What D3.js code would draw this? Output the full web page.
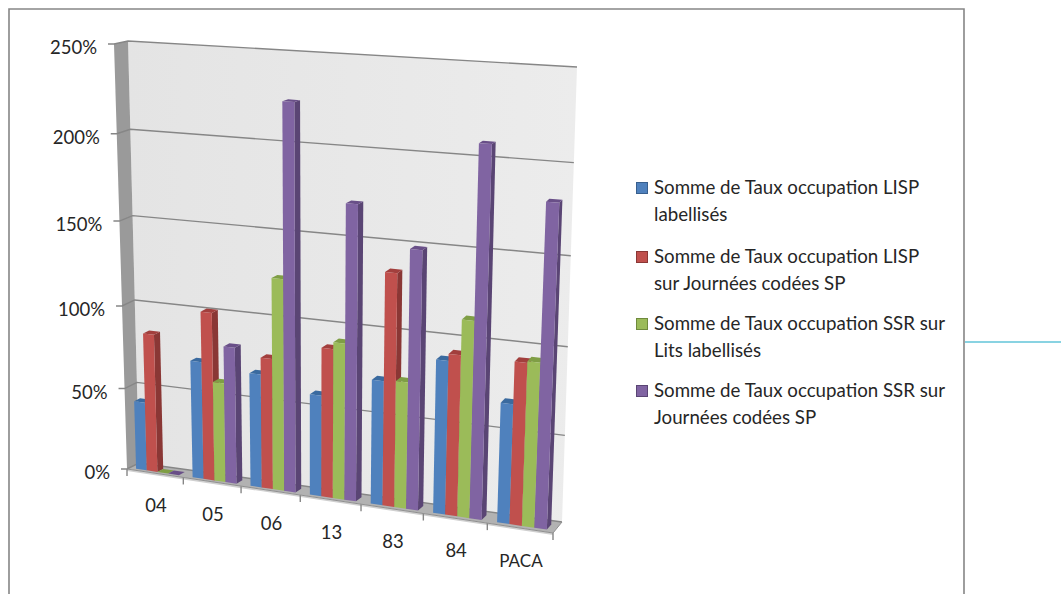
<!DOCTYPE html>
<html>
<head>
<meta charset="utf-8">
<script src="https://cdn.jsdelivr.net/npm/d3@7"></script>
<style>
    body { margin: 0; background: #fff; }
    svg { display: block; font-family: Lato, "Open Sans", sans-serif; }
</style>
</head>
<body>
<div id="chart"></div>
<script>
//Width and height
var w = 1061;
var h = 594;

//Data
const categories = ["04", "05", "06", "13", "83", "84", "PACA"];
const seriesKeys = ["lispLabel", "lispJours", "ssrLits", "ssrJours"];
const lispLabel = [42, 71, 68, 60, 73, 89, 69];
const lispJours = [84, 101, 78, 88, 135, 93, 93];
const ssrLits = [0, 60, 125, 92, 74, 113, 94];
const ssrJours = [0, 82, 224, 171, 149, 209, 181];
const seriesValues = [lispLabel, lispJours, ssrLits, ssrJours];
const valueTicks = [0, 50, 100, 150, 200, 250];
const legendLines = [
    ["Somme de Taux occupation LISP", "labellisés"],
    ["Somme de Taux occupation LISP", "sur Journées codées SP"],
    ["Somme de Taux occupation SSR sur", "Lits labellisés"],
    ["Somme de Taux occupation SSR sur", "Journées codées SP"]
];

//front, side, top of each series
var colors = [
    { front: "#4f81bd", side: "#385f8e", top: "#3a6a9f" },
    { front: "#c0504d", side: "#8a3735", top: "#a23f3d" },
    { front: "#9bbb59", side: "#6f8a3c", top: "#7f9e45" },
    { front: "#8064a2", side: "#5a4574", top: "#694f88" }
];

//Screen corners of the chart box: bottom-left, bottom-right, top-right, top-left
var frontQuad = [[127, 469], [553, 533], [572, 70], [114, 44]];
var backQuad = [[139, 463], [562, 522], [577, 67], [128, 41]];

//Unit square to quad perspective map
function makeHomography(q) {
    var dx1 = q[1][0] - q[2][0], dx2 = q[3][0] - q[2][0], sx = q[0][0] - q[1][0] + q[2][0] - q[3][0];
    var dy1 = q[1][1] - q[2][1], dy2 = q[3][1] - q[2][1], sy = q[0][1] - q[1][1] + q[2][1] - q[3][1];
    var den = dx1 * dy2 - dx2 * dy1;
    var g = (sx * dy2 - dx2 * sy) / den;
    var k = (dx1 * sy - sx * dy1) / den;
    var a = q[1][0] - q[0][0] + g * q[1][0], b = q[3][0] - q[0][0] + k * q[3][0], c = q[0][0];
    var d = q[1][1] - q[0][1] + g * q[1][1], e = q[3][1] - q[0][1] + k * q[3][1], f = q[0][1];
    return function (u, v) {
        var t = g * u + k * v + 1;
        return [(a * u + b * v + c) / t, (d * u + e * v + f) / t];
    };
}

var frontMap = makeHomography(frontQuad);
var backMap = makeHomography(backQuad);

//u along categories, v up the values, depth 0 = front, 1 = back
function project(u, v, depth) {
    var p = frontMap(u, v), q = backMap(u, v);
    return [p[0] + (q[0] - p[0]) * depth, p[1] + (q[1] - p[1]) * depth];
}

var xScale = d3.scaleBand().domain(categories).range([0, 1]).paddingInner(0.24).paddingOuter(0.12);
var seriesScale = d3.scaleBand().domain(seriesKeys).range([0, xScale.bandwidth()]);
var yScale = d3.scaleLinear().domain([0, 250]).range([0, 1]);
var tickScale = d3.scalePoint().domain(d3.range(categories.length + 1)).range([0, 1]);

var barFrontDepth = 0.2;
var barBackDepth = 0.68;

var line = d3.line();

var svg = d3.select("#chart").append("svg")
    .attr("width", w)
    .attr("height", h);

function face(g, pts, fill) {
    return g.append("path")
        .attr("d", line(pts) + "Z")
        .attr("fill", fill);
}

//Frame around the pasted chart, open at the bottom
svg.append("path")
    .attr("d", "M9,594V9H964V594")
    .attr("fill", "none")
    .attr("stroke", "#868686")
    .attr("stroke-width", 1.6);

//Stray connector at the right edge
svg.append("line")
    .attr("x1", 965).attr("x2", 1061)
    .attr("y1", 342).attr("y2", 342)
    .attr("stroke", "#62c4d8")
    .attr("stroke-width", 1.5);

//Gradient for back wall
var grad = svg.append("defs").append("linearGradient").attr("id", "wall");
grad.append("stop").attr("offset", "0%").attr("stop-color", "#e4e4e4");
grad.append("stop").attr("offset", "100%").attr("stop-color", "#ececec");

var walls = svg.append("g").attr("class", "walls");
face(walls, [project(0, 0, 1), project(1, 0, 1), project(1, 1, 1), project(0, 1, 1)], "url(#wall)");
face(walls, [project(0, 0, 0), project(0, 0, 1), project(0, 1, 1), project(0, 1, 0)], "#9a9a9a");
face(walls, [project(0, 0, 0), project(1, 0, 0), project(1, 0, 1), project(0, 0, 1)], "#b2b2b2");
//thin lip under the floor
face(walls, [project(0, 0, 0), project(1, 0, 0), [project(1, 0, 0)[0], project(1, 0, 0)[1] + 2], [project(0, 0, 0)[0], project(0, 0, 0)[1] + 2]], "#d0d0d0");

//Gridlines on back wall and side wall, with tick on the front edge
var grid = svg.append("g").attr("class", "grid");
valueTicks.forEach(function (t) {
    var v = yScale(t);
    var front = project(0, v, 0);
    grid.append("path")
        .attr("d", line([[front[0] - 6, front[1]], front, project(0, v, 1), project(1, v, 1)]))
        .attr("fill", "none")
        .attr("stroke", "#868686")
        .attr("stroke-width", 1.4);

    svg.append("text")
        .attr("x", front[0] - 17)
        .attr("y", front[1] + 10)
        .attr("text-anchor", "end")
        .attr("font-size", "18.5px")
        .attr("fill", "#262626")
        .text(t + "%");
});

//Right edge of floor and category ticks
d3.range(categories.length + 1).forEach(function (i) {
    var p = project(tickScale(i), 0, 0);
    grid.append("line")
        .attr("x1", p[0]).attr("x2", p[0])
        .attr("y1", p[1]).attr("y2", p[1] + 7)
        .attr("stroke", "#868686")
        .attr("stroke-width", 1.4);
});
grid.append("path")
    .attr("d", line([project(0, 0, 0), project(1, 0, 0), project(1, 0, 1)]))
    .attr("fill", "none")
    .attr("stroke", "#8f8f8f")
    .attr("stroke-width", 1);

categories.forEach(function (c, i) {
    var p = project((tickScale(i) + tickScale(i + 1)) / 2, 0, 0);
    svg.append("text")
        .attr("x", p[0] + 1)
        .attr("y", p[1] + (c === "PACA" ? 39 : 39))
        .attr("text-anchor", "middle")
        .attr("font-size", c === "PACA" ? "17px" : "18.5px")
        .attr("fill", "#262626")
        .text(c);
});

//Bars, left to right so each one covers the side of the previous
var bars = svg.append("g").attr("class", "bars");
categories.forEach(function (c, i) {
    seriesKeys.forEach(function (key, s) {
        var u0 = xScale(c) + seriesScale(key);
        var u1 = u0 + seriesScale.bandwidth();
        var v = yScale(seriesValues[s][i]);
        var g = bars.append("g");
        var a = barFrontDepth, b = barBackDepth;
        face(g, [project(u1, 0, a), project(u1, 0, b), project(u1, v, b), project(u1, v, a)], colors[s].side);
        face(g, [project(u0, v, a), project(u1, v, a), project(u1, v, b), project(u0, v, b)], colors[s].top);
        face(g, [project(u0, 0, a), project(u1, 0, a), project(u1, v, a), project(u0, v, a)], colors[s].front);
    });
});

//Legend
var legendTop = [182, 251, 318, 385];
var lineStep = 27;
var legend = svg.append("g").attr("class", "legend");
legendLines.forEach(function (lines, i) {
    legend.append("rect")
        .attr("x", 636.5)
        .attr("y", legendTop[i] + 0.5)
        .attr("width", 11)
        .attr("height", 11)
        .attr("fill", colors[i].front)
        .attr("stroke", colors[i].side);
    lines.forEach(function (txt, j) {
        legend.append("text")
            .attr("x", 654)
            .attr("y", legendTop[i] + 12 + j * lineStep)
            .attr("font-size", "18.7px")
            .attr("fill", "#262626")
            .text(txt);
    });
});
</script>
</body>
</html>
